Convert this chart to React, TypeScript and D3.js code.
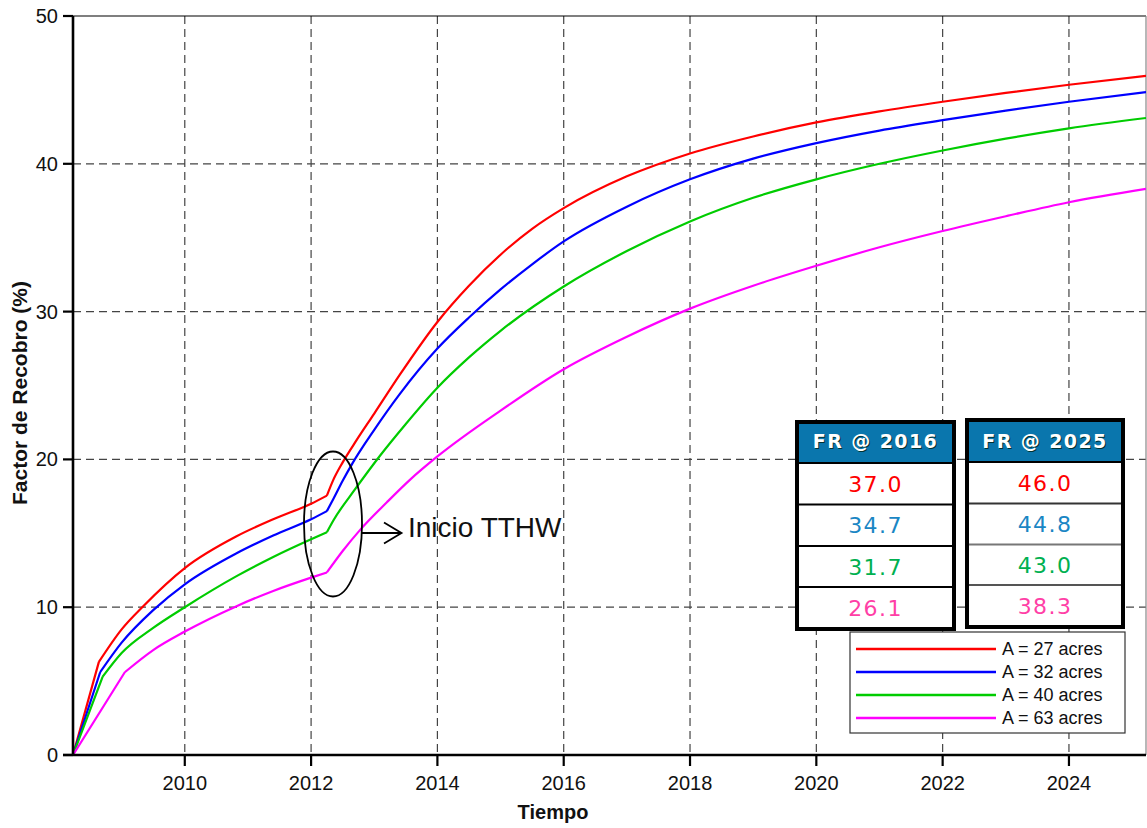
import React from "react";
import * as d3 from "d3";

// ---------- data ----------
const xTicks = [2010, 2012, 2014, 2016, 2018, 2020, 2022, 2024];
const yTicks = [0, 10, 20, 30, 40, 50];
const seriesNames = ["A = 27 acres", "A = 32 acres", "A = 40 acres", "A = 63 acres"];
const seriesColors = ["#ff0000", "#0000ff", "#00cc00", "#ff00ff"];
const tthwStart = 2012.25;

const a27: [number, number][] = [
  [2008.23, 0], [2008.64, 6.3], [2009.0, 8.5], [2009.35, 10.1], [2010, 12.65], [2010.82, 14.8],
  [2011.4, 15.95], [2012, 17.0], [2012.25, 17.55], [2012.35, 18.6], [2012.5, 19.8],
  [2012.72, 21.3], [2013.0, 23.1], [2013.4, 25.7], [2014, 29.3], [2014.5, 31.75], [2015, 33.85],
  [2015.5, 35.6], [2016, 37.0], [2017, 39.15], [2018, 40.7], [2019, 41.85], [2020, 42.8],
  [2021, 43.55], [2022, 44.2], [2023, 44.8], [2024, 45.35], [2025.22, 45.95],
];
const a32: [number, number][] = [
  [2008.23, 0], [2008.66, 5.6], [2009.0, 7.6], [2009.5, 9.8], [2010, 11.55], [2010.82, 13.65],
  [2011.4, 14.85], [2012, 15.95], [2012.25, 16.5], [2012.35, 17.3], [2012.5, 18.55],
  [2012.65, 19.7], [2013.0, 22.0], [2013.4, 24.4], [2014, 27.5], [2014.5, 29.6], [2015, 31.5],
  [2015.5, 33.2], [2016, 34.75], [2017, 37.1], [2018, 38.95], [2019, 40.35], [2020, 41.4],
  [2021, 42.25], [2022, 42.95], [2023, 43.6], [2024, 44.2], [2025.22, 44.85],
];
const a40: [number, number][] = [
  [2008.23, 0], [2008.7, 5.3], [2009.0, 6.9], [2009.5, 8.6], [2010, 10.0], [2010.82, 12.1],
  [2011.4, 13.4], [2012, 14.6], [2012.25, 15.07], [2012.35, 15.85], [2012.7, 18.0],
  [2013.1, 20.3], [2013.5, 22.4], [2014, 24.85], [2014.5, 26.9], [2015, 28.7], [2016, 31.7],
  [2017, 34.1], [2018, 36.1], [2019, 37.7], [2020, 38.95], [2021, 40.0], [2022, 40.9],
  [2023, 41.7], [2024, 42.4], [2025.22, 43.1],
];
const a63: [number, number][] = [
  [2008.23, 0], [2009.05, 5.6], [2009.5, 7.1], [2010, 8.35], [2010.82, 10.07], [2011.4, 11.1],
  [2012, 12.0], [2012.25, 12.35], [2012.5, 13.8], [2012.78, 15.25], [2013.2, 17.1],
  [2013.56, 18.6], [2014, 20.2], [2015, 23.3], [2016, 26.1], [2017, 28.3], [2018, 30.2],
  [2019, 31.75], [2020, 33.1], [2021, 34.35], [2022, 35.45], [2023, 36.45], [2024, 37.4],
  [2025.22, 38.3],
];
const allSeries = [a27, a32, a40, a63];

const fr2016 = ["37.0", "34.7", "31.7", "26.1"];
const fr2025 = ["46.0", "44.8", "43.0", "38.3"];
const tableTextColors = ["#ff0000", "#1a86c4", "#00b050", "#ff3fa6"];
const tableHeaders = ["FR @ 2016", "FR @ 2025"];

// ---------- layout ----------
const W = 1147, H = 828;
const L = 73, R = 1146, T = 16, B = 755;

export default function App() {
  const x = d3.scaleLinear().domain([2008.23, 2025.22]).range([L, R]);
  const y = d3.scaleLinear().domain([0, 50]).range([B, T]);
  const smooth = d3.line<[number, number]>()
    .x((d) => x(d[0]))
    .y((d) => y(d[1]))
    .curve(d3.curveMonotoneX);
  const straight = d3.line<[number, number]>()
    .x((d) => x(d[0]))
    .y((d) => y(d[1]));

  const seriesPath = (s: [number, number][]) => {
    const k = s.findIndex((d) => d[0] === tthwStart);
    return (straight(s.slice(0, 2)) || "") + (smooth(s.slice(1, k + 1)) || "") + (smooth(s.slice(k)) || "");
  };

  const font = "Arial, 'Liberation Sans', sans-serif";
  const tables = [
    { x0: 797, x1: 954, y0: 422, head: 463, rows: [463, 504.5, 546, 587, 629], values: fr2016, title: tableHeaders[0], sepColor: ["#000", "#000", "#000"] },
    { x0: 967, x1: 1123, y0: 420, head: 462, rows: [462, 503.5, 544.5, 585, 627], values: fr2025, title: tableHeaders[1], sepColor: ["#333", "#777", "#555"] },
  ];

  return (
    <svg width={W} height={H} style={{ position: "absolute", left: 0, top: 0, background: "#fff" }}
      fontFamily={font}>
      <defs>
        <clipPath id="plot"><rect x={L} y={T} width={R - L} height={B - T} /></clipPath>
      </defs>
      {/* grid */}
      {xTicks.map((t) => (
        <line key={"gx" + t} x1={x(t)} x2={x(t)} y1={T} y2={B} stroke="#444" strokeWidth={1.2} strokeDasharray="8,5" />
      ))}
      {yTicks.filter((t) => t > 0 && t < 50).map((t) => (
        <line key={"gy" + t} x1={L} x2={R} y1={y(t)} y2={y(t)} stroke="#444" strokeWidth={1.2} strokeDasharray="8,5" />
      ))}
      {/* frame */}
      <line x1={L} x2={R} y1={T} y2={T} stroke="#000" strokeWidth={1.2} />
      <line x1={R} x2={R} y1={T} y2={B} stroke="#888" strokeWidth={1.2} />

      {/* curves */}
      <g clipPath="url(#plot)">
        {allSeries.map((s, i) => (
          <path key={"s" + i} d={seriesPath(s)} fill="none" stroke={seriesColors[i]} strokeWidth={2.2}
            strokeLinejoin="round" />
        ))}
      </g>

      {/* axes */}
      <line x1={L} x2={L} y1={T} y2={B + 1} stroke="#000" strokeWidth={2.6} />
      <line x1={L - 10} x2={R} y1={B} y2={B} stroke="#000" strokeWidth={2.6} />
      {yTicks.map((t) => (
        <g key={"yt" + t}>
          <line x1={L - 10} x2={L} y1={y(t)} y2={y(t)} stroke="#000" strokeWidth={2.2} />
          <text x={58} y={y(t)} dy="0.35em" textAnchor="end" fontSize={20} fill="#111">{t}</text>
        </g>
      ))}
      {xTicks.map((t) => (
        <g key={"xt" + t}>
          <line x1={x(t)} x2={x(t)} y1={B} y2={B + 11} stroke="#000" strokeWidth={2.2} />
          <text x={x(t)} y={790} textAnchor="middle" fontSize={20} fill="#111">{t}</text>
        </g>
      ))}
      <text x={553} y={819} textAnchor="middle" fontSize={20} fontWeight="bold" fill="#111">Tiempo</text>
      <text transform="translate(27,393) rotate(-90)" textAnchor="middle" fontSize={21} fontWeight="bold" fill="#111">
        Factor de Recobro (%)
      </text>

      {/* annotation */}
      <ellipse cx={333} cy={524} rx={29} ry={72.5} fill="none" stroke="#000" strokeWidth={1.8} />
      <line x1={362} x2={401} y1={533} y2={533} stroke="#000" strokeWidth={1.8} />
      <polyline points="384,522.5 401.5,533 384,543.5" fill="none" stroke="#000" strokeWidth={1.8} />
      <text x={408} y={537} fontSize={28} fill="#111">Inicio TTHW</text>

      {/* tables */}
      {tables.map((tb, k) => {
        const cx = (tb.x0 + tb.x1) / 2;
        return (
          <g key={"tb" + k}>
            <rect x={tb.x0} y={tb.y0} width={tb.x1 - tb.x0} height={tb.rows[4] - tb.y0} fill="#fff" />
            <rect x={tb.x0} y={tb.y0} width={tb.x1 - tb.x0} height={tb.head - tb.y0} fill="#0a76ad" />
            {tb.rows.slice(1, 4).map((r, i) => (
              <line key={"sep" + i} x1={tb.x0} x2={tb.x1} y1={r} y2={r} stroke={tb.sepColor[i]} strokeWidth={2} />
            ))}
            <line x1={tb.x0} x2={tb.x1} y1={tb.head} y2={tb.head} stroke="#000" strokeWidth={2} />
            <rect x={tb.x0} y={tb.y0} width={tb.x1 - tb.x0} height={tb.rows[4] - tb.y0} fill="none" stroke="#000" strokeWidth={4} />
            <text x={cx + 1} y={449} textAnchor="middle" fontSize={19} fontWeight="bold" letterSpacing={1.4}
              fontFamily="'DejaVu Sans', sans-serif" fill="#033">{tb.title}</text>
            <text x={cx} y={448} textAnchor="middle" fontSize={19} fontWeight="bold" letterSpacing={1.4}
              fontFamily="'DejaVu Sans', sans-serif" fill="#fff">{tb.title}</text>
            {tb.values.map((v, i) => (
              <text key={"v" + i} x={cx} y={(tb.rows[i] + tb.rows[i + 1]) / 2 + 8} textAnchor="middle" fontSize={22}
                letterSpacing={1.4} fontFamily="'DejaVu Sans', sans-serif" fill={tableTextColors[i]}>{v}</text>
            ))}
          </g>
        );
      })}

      {/* legend */}
      <rect x={850} y={632} width={275} height={101} fill="#fff" stroke="#333" strokeWidth={1.2} />
      {seriesNames.map((n, i) => (
        <g key={"lg" + i}>
          <line x1={856} x2={996} y1={649 + i * 23} y2={649 + i * 23} stroke={seriesColors[i]} strokeWidth={2.5} />
          <text x={1002} y={649 + i * 23} dy="0.36em" fontSize={18} fill="#111">{n}</text>
        </g>
      ))}
    </svg>
  );
}
